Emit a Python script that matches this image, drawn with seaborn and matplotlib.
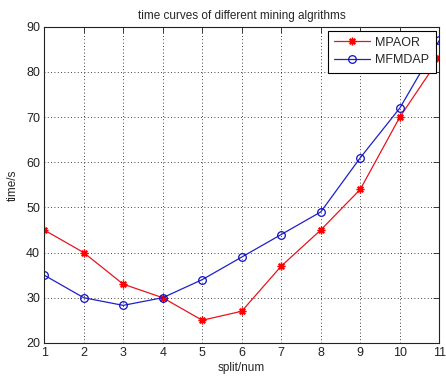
import matplotlib
matplotlib.use("Agg")
import matplotlib.pyplot as plt
import seaborn as sns

# data
splits = [1, 2, 3, 4, 5, 6, 7, 8, 9, 10, 11]
mpaor = [45, 40, 33, 30, 25, 27, 37, 45, 54, 70, 83]
mfmdap = [35, 30, 28.3, 30, 34, 39, 44, 49, 61, 72, 87]
x_ticks = list(range(1, 12))
y_ticks = list(range(20, 100, 10))

sns.set_style("white")
plt.rcParams['font.family'] = ['Liberation Sans', 'DejaVu Sans']

fig = plt.figure(figsize=(4.46, 3.78), dpi=100)
ax = fig.add_axes([0.099, 0.093, 0.886, 0.836])

sns.lineplot(x=splits, y=mpaor, ax=ax, color="#e8141e", lw=0.9,
             marker=(8, 2, 0), ms=5.5, mec="red", mew=1.0, label="MPAOR")
sns.lineplot(x=splits, y=mfmdap, ax=ax, color="#2020c8", lw=0.9,
             marker="o", ms=5.5, mfc="none", mec="#1010c0", mew=0.9, label="MFMDAP")

ax.set_xlim(1, 11)
ax.set_ylim(20, 90)
ax.set_xticks(x_ticks)
ax.set_yticks(y_ticks)
ax.tick_params(direction="in", top=True, right=True, length=4, width=0.6,
               labelsize=9, pad=3, colors="#222222")
ax.grid(True, color="black", linestyle=(0, (1, 3)), linewidth=0.6)
for sp in ax.spines.values():
    sp.set_color("#222222")
    sp.set_linewidth(0.8)

ax.set_title("time curves of different mining algrithms", fontsize=8.5, pad=6)
ax.set_xlabel("split/num", fontsize=8.5, labelpad=2)
ax.set_ylabel("time/s", fontsize=8.5, labelpad=5)

leg = ax.legend(loc="upper right", fontsize=9, fancybox=False, framealpha=1,
                edgecolor="black", borderaxespad=0.3, handlelength=2.9,
                borderpad=0.5, labelspacing=0.45, handletextpad=0.4)
leg.get_frame().set_linewidth(0.8)

fig.savefig("out.png", dpi=100, facecolor="white")
